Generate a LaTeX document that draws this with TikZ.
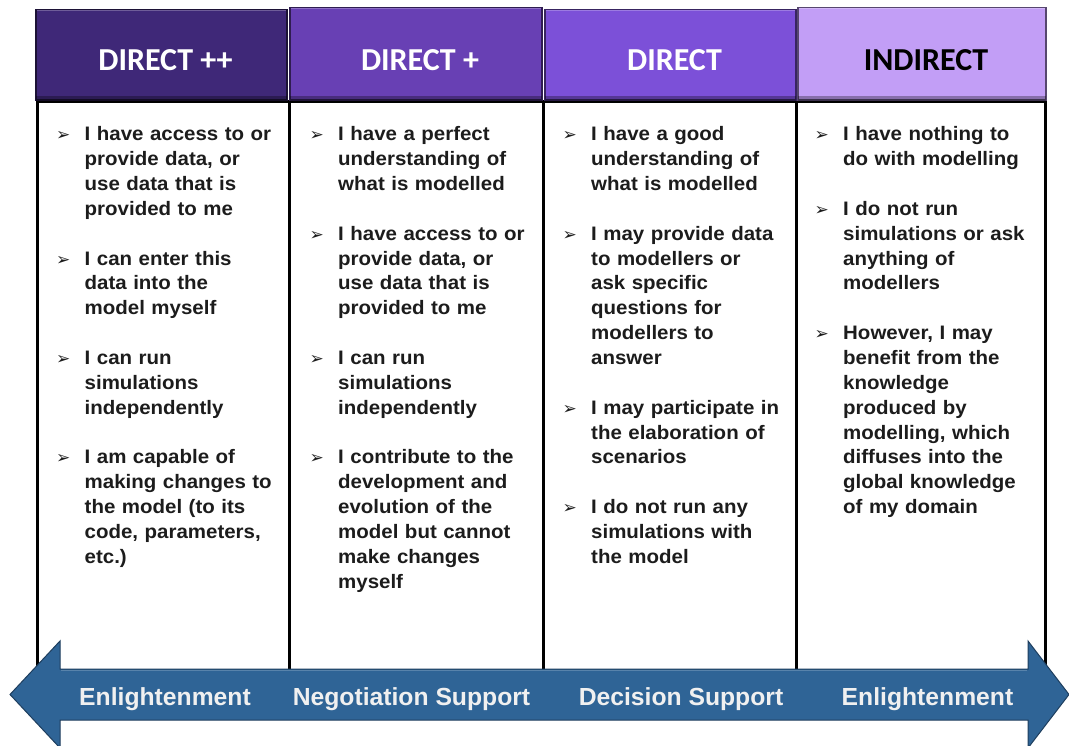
\documentclass[tikz,border=0pt]{standalone}
\usepackage{fontspec}
\setmainfont{Liberation Sans}
\newfontfamily\hdrfont{Carlito}
\newfontfamily\bodyfont[FakeStretch=1.05]{Liberation Sans}
\newfontfamily\bulfont{DejaVu Sans}
\usetikzlibrary{positioning, calc}

% bullet item with hanging indent
\newlength{\bulind}\setlength{\bulind}{28.5pt}
\newlength{\itemgap}\setlength{\itemgap}{24.85pt}
\newcommand{\bitem}[1]{\hangindent=\bulind\relax\hangafter=1\relax\noindent\makebox[\bulind][l]{\rule{0pt}{15pt}{\bulfont\fontsize{17}{17}\selectfont ➢}}#1\par\setlength{\parskip}{\itemgap}}

\begin{document}
\begin{tikzpicture}[x=1pt, y=-1pt, >=latex]
        % colours
        \definecolor{hdA}{HTML}{3F2878}
        \definecolor{hdB}{HTML}{6840B4}
        \definecolor{hdC}{HTML}{7C50D8}
        \definecolor{hdD}{HTML}{C29EF6}
        \definecolor{arrowblue}{HTML}{2F6496}
        \definecolor{arrowedge}{HTML}{1E3E5E}
        \definecolor{bodytext}{HTML}{1C1C1C}

        % common styles
        \tikzset{
            hdr/.style={draw=#1!45!black, line width=1.2pt, fill=#1, inner sep=0pt},
            hdrtext/.style={font=\hdrfont\bfseries\fontsize{32}{36}\selectfont, inner sep=0pt},
            cell/.style={draw=black, line width=3pt, fill=white},
            items/.style={anchor=north west, inner sep=0pt, text width=240pt, align=left, text=bodytext,
                font=\bodyfont\bfseries\fontsize{19.5}{24.85}\selectfont\setlength{\parskip}{0pt}},
            arrowbody/.style={fill=arrowblue, draw=arrowedge, line width=1pt, line join=miter},
            lbl/.style={anchor=base, inner sep=0pt, text=white!94!black, font=\bfseries\fontsize{24.7}{28}\selectfont}
        }

        \useasboundingbox (0,0) rectangle (1069,746);

        % --- body cells ---
        \foreach \xa/\xb in {37/289.5, 289.5/543.5, 543.5/796.5, 796.5/1045.5} {
            \draw[cell] (\xa,101.5) rectangle (\xb,690);
        }

        % --- headers ---
        \foreach \nm/\xa/\xb/\ya/\tc/\txt in {A/36/287/9.5/white/{DIRECT ++}, B/290/542/7.5/white/{DIRECT +},
                                           C/545/796/9.5/white/{DIRECT}, D/798/1046/7.5/black/{INDIRECT}} {
            \pgfmathsetmacro{\cx}{(\xa+\xb)/2}
            \pgfmathsetmacro{\cy}{(\ya+100)/2}
            \pgfmathsetmacro{\w}{\xb-\xa}
            \pgfmathsetmacro{\h}{100-\ya}
            \node[hdr=hd\nm, minimum width=\w pt, minimum height=\h pt] (hd\nm) at (\cx,\cy) {};
            \fill[black, opacity=0.3] ($(hd\nm.south west)+(1,-5)$) rectangle ($(hd\nm.south east)+(-1,0)$);
            \draw[white, opacity=0.25, line width=1pt] ($(hd\nm.north west)+(2,2)$) -- ($(hd\nm.north east)+(-2,2)$);
            \node[hdrtext, text=\tc] (hd\nm-t) at (\cx+4,60.3) {\txt};
        }

        % --- column texts ---
        \node[items] (txtA) at (56,125.7) {%
            \bitem{I have access to or\newline provide data, or\newline use data that is\newline provided to me}
            \bitem{I can enter this\newline data into the\newline model myself}
            \bitem{I can run\newline simulations\newline independently}
            \bitem{I am capable of\newline making changes to\newline the model (to its\newline code, parameters,\newline etc.)}};
        \node[items] (txtB) at (309.5,125.7) {%
            \bitem{I have a perfect\newline understanding of\newline what is modelled}
            \bitem{I have access to or\newline provide data, or\newline use data that is\newline provided to me}
            \bitem{I can run\newline simulations\newline independently}
            \bitem{I contribute to the\newline development and\newline evolution of the\newline model but cannot\newline make changes\newline myself}};
        \node[items] (txtC) at (562.5,125.7) {%
            \bitem{I have a good\newline understanding of\newline what is modelled}
            \bitem{I may provide data\newline to modellers or\newline ask specific\newline questions for\newline modellers to\newline answer}
            \bitem{I may participate in\newline the elaboration of\newline scenarios}
            \bitem{I do not run any\newline simulations with\newline the model}};
        \node[items] (txtD) at (814.5,125.7) {%
            \bitem{I have nothing to\newline do with modelling}
            \bitem{I do not run\newline simulations or ask\newline anything of\newline modellers}
            \bitem{However, I may\newline benefit from the\newline knowledge\newline produced by\newline modelling, which\newline diffuses into the\newline global knowledge\newline of my domain}};

        % --- double arrow ---
        \draw[arrowbody] (10,694.5) -- (60,641) -- (60,669) -- (1028,669) -- (1028,641) -- (1069,694.5)
            -- (1028,748) -- (1028,720) -- (60,720) -- (60,748) -- cycle;
        \draw[white, opacity=0.2, line width=1pt] (61,670.5) -- (1027,670.5);

        \node[lbl] (lbA) at (165,705) {Enlightenment};
        \node[lbl] (lbB) at (411.5,705) {Negotiation Support};
        \node[lbl] (lbC) at (681,705) {Decision Support};
        \node[lbl] (lbD) at (927.5,705) {Enlightenment};
    \end{tikzpicture}
\end{document}
